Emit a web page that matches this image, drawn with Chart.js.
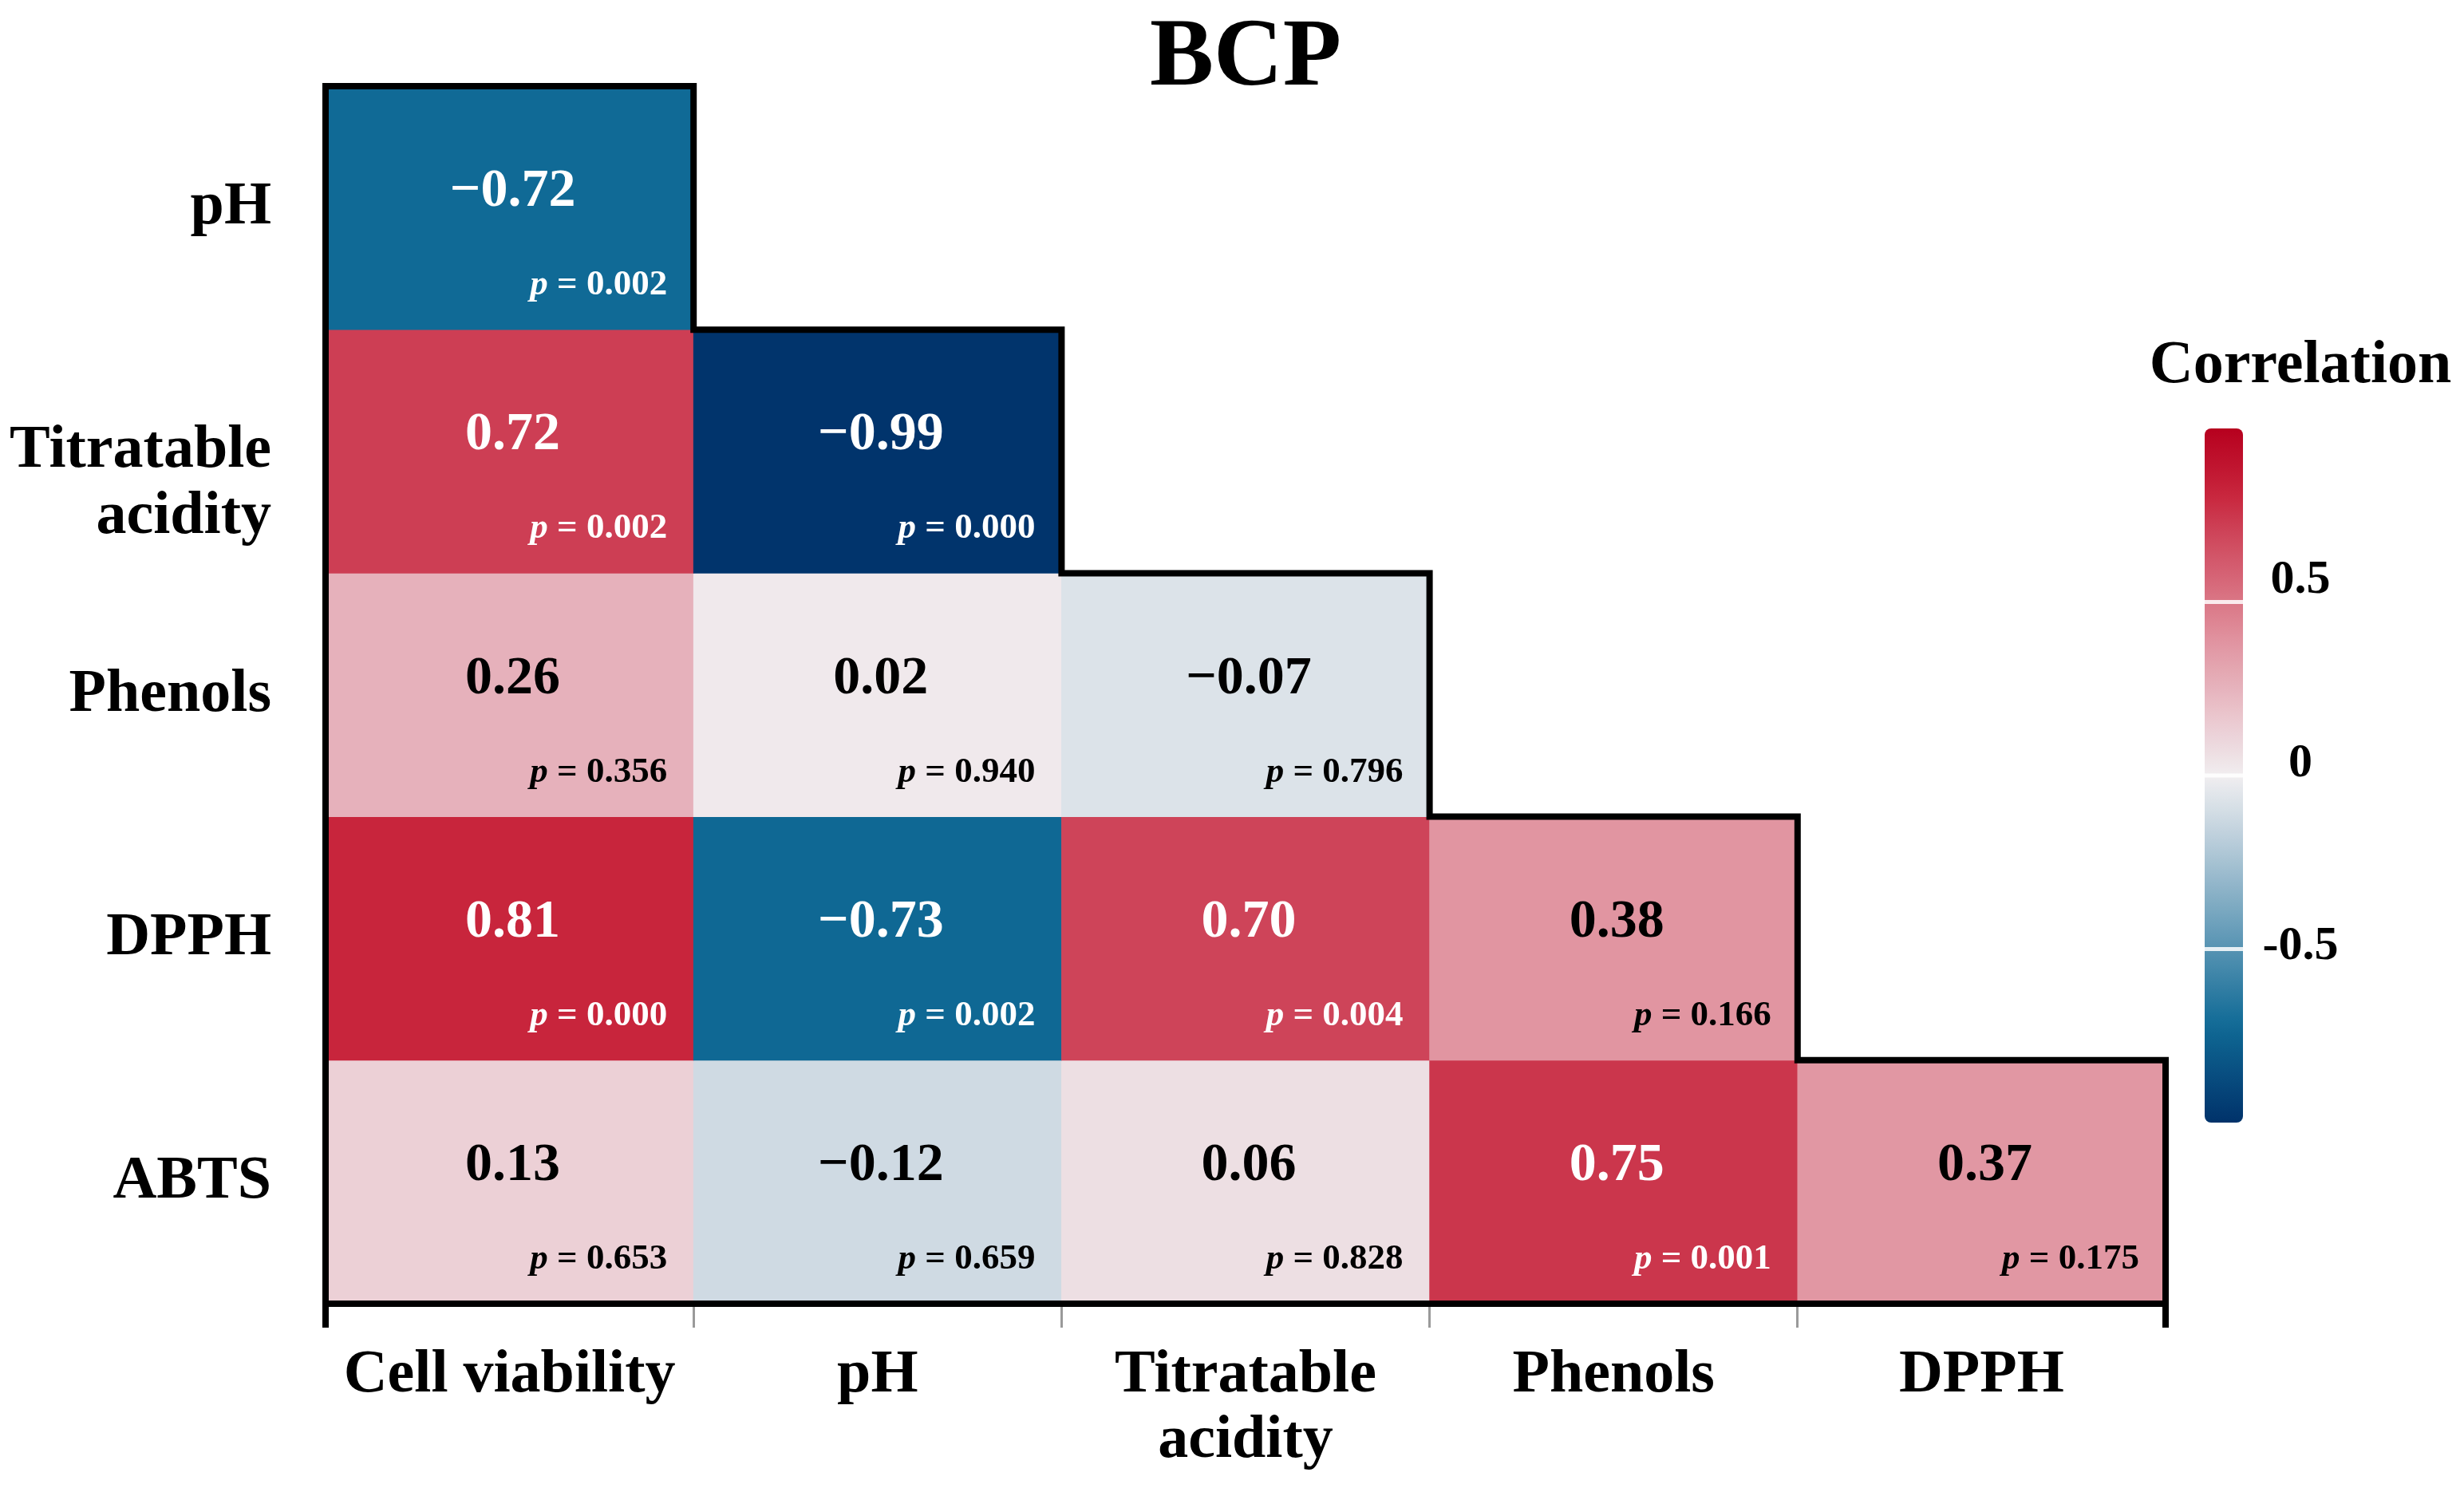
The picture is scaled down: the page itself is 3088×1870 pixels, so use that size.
<!DOCTYPE html>
<html>
<head>
<meta charset="utf-8">
<script src="https://cdn.jsdelivr.net/npm/chart.js@4.4.1/dist/chart.umd.min.js"></script>
<style>
  html, body { margin: 0; padding: 0; background: #fff; }
  #wrap { width: 3088px; height: 1870px; }
</style>
</head>
<body>
<div id="wrap"><canvas id="corrChart"></canvas></div>
<script>
// columns (x) and rows (y) of the lower-triangle matrix
const colLabels = ["Cell viability", "pH", ["Titratable", "acidity"], "Phenols", "DPPH"];
const rowLabels = ["pH", ["", "Titratable", "acidity"], "Phenols", "DPPH", "ABTS"];

// correlation coefficients, one array per row
const rPH       = [-0.72];
const rTitrable = [0.72, -0.99];
const rPhenols  = [0.26, 0.02, -0.07];
const rDPPH     = [0.81, -0.73, 0.70, 0.38];
const rABTS     = [0.13, -0.12, 0.06, 0.75, 0.37];

// p values, one array per row
const pPH       = ["0.002"];
const pTitrable = ["0.002", "0.000"];
const pPhenols  = ["0.356", "0.940", "0.796"];
const pDPPH     = ["0.000", "0.002", "0.004", "0.166"];
const pABTS     = ["0.653", "0.659", "0.828", "0.001", "0.175"];

// colour bar ticks
const cbTicks = [0.5, 0, -0.5];
const cbTickLabels = ["0.5", "0", "-0.5"];

const corrRows = [rPH, rTitrable, rPhenols, rDPPH, rABTS];
const pRows = [pPH, pTitrable, pPhenols, pDPPH, pABTS];

const FONT = "'Liberation Serif', 'Times New Roman', serif";

const colorStops = [
  [-1.00, [0, 50, 106]],
  [-0.72, [16, 106, 150]],
  [-0.12, [207, 218, 227]],
  [-0.07, [220, 227, 233]],
  [0.00, [241, 238, 240]],
  [0.06, [237, 223, 227]],
  [0.13, [236, 208, 214]],
  [0.26, [230, 177, 187]],
  [0.38, [225, 149, 161]],
  [0.70, [206, 68, 89]],
  [0.81, [200, 37, 60]],
  [1.00, [182, 0, 30]]
];

function colorFor(v) {
  for (let k = 1; k < colorStops.length; k++) {
    const [v1, c1] = colorStops[k];
    const [v0, c0] = colorStops[k - 1];
    if (v <= v1) {
      const t = Math.max(0, (v - v0) / (v1 - v0));
      const c = c0.map((a, n) => Math.round(a + (c1[n] - a) * t));
      return `rgb(${c[0]},${c[1]},${c[2]})`;
    }
  }
  const c = colorStops[colorStops.length - 1][1];
  return `rgb(${c[0]},${c[1]},${c[2]})`;
}

function fmt(v) {
  return v < 0 ? "\u2212" + Math.abs(v).toFixed(2) : v.toFixed(2);
}

const datasets = rowLabels.map((_, i) => ({
  data: colLabels.map((_, j) => j <= i ? [i, i + 1] : null),
  backgroundColor: colLabels.map((_, j) => j <= i ? colorFor(corrRows[i][j]) : "rgba(0,0,0,0)"),
  borderWidth: 0,
  barPercentage: 1,
  categoryPercentage: 1,
  grouped: false
}));

// cell texts + staircase outline
const cellPlugin = {
  id: "cellPlugin",
  afterDatasetsDraw(chart) {
    const ctx = chart.ctx;
    const cell = (i, j) => {
      const el = chart.getDatasetMeta(i).data[j];
      return {
        left: el.x - el.width / 2, right: el.x + el.width / 2,
        top: Math.min(el.y, el.base), bottom: Math.max(el.y, el.base), cx: el.x
      };
    };
    ctx.save();
    corrRows.forEach((row, i) => {
      row.forEach((r, j) => {
        const c = cell(i, j);
        const col = Math.abs(r) >= 0.5 ? "#fff" : "#000";
        ctx.fillStyle = col;
        ctx.textAlign = "center";
        ctx.textBaseline = "middle";
        ctx.font = `bold 68px ${FONT}`;
        ctx.fillText(fmt(r), c.cx + 4, (c.top + c.bottom) / 2 - 20);

        const rest = " = " + pRows[i][j];
        const xr = c.right - 33, yb = c.bottom - 44;
        ctx.textBaseline = "alphabetic";
        ctx.textAlign = "right";
        ctx.font = `bold 45px ${FONT}`;
        const w = ctx.measureText(rest).width;
        ctx.fillText(rest, xr, yb);
        ctx.font = `italic bold 45px ${FONT}`;
        ctx.fillText("p", xr - w, yb);
      });
    });

    // outline
    const n = rowLabels.length;
    ctx.beginPath();
    const first = cell(n - 1, 0);
    ctx.moveTo(first.left, first.bottom);
    for (let i = 0; i < n; i++) {
      const d = cell(i, i);
      ctx.lineTo(d.left, d.top);
      ctx.lineTo(d.right, d.top);
    }
    const last = cell(n - 1, n - 1);
    ctx.lineTo(last.right, last.bottom);
    ctx.closePath();
    ctx.lineWidth = 8;
    ctx.lineJoin = "miter";
    ctx.strokeStyle = "#000";
    ctx.stroke();
    ctx.restore();
  }
};

// colour bar legend
const colorBarPlugin = {
  id: "colorBar",
  afterDraw(chart) {
    const ctx = chart.ctx;
    const x0 = 2763, w = 48, top = 537, bottom = 1407;
    const yFor = v => top + (1 - v) / 2 * (bottom - top);
    ctx.save();
    const g = ctx.createLinearGradient(0, top, 0, bottom);
    for (let k = 0; k <= 40; k++) {
      const v = 1 - k / 20;
      g.addColorStop(k / 40, colorFor(v));
    }
    ctx.fillStyle = g;
    ctx.beginPath();
    ctx.roundRect(x0, top, w, bottom - top, 8);
    ctx.fill();

    ctx.strokeStyle = "rgba(255,255,255,0.85)";
    ctx.lineWidth = 5;
    cbTicks.forEach(v => {
      ctx.beginPath();
      ctx.moveTo(x0, yFor(v));
      ctx.lineTo(x0 + w, yFor(v));
      ctx.stroke();
    });

    ctx.fillStyle = "#000";
    ctx.textAlign = "center";
    ctx.textBaseline = "middle";
    ctx.font = `bold 60px ${FONT}`;
    cbTicks.forEach((v, k) => ctx.fillText(cbTickLabels[k], 2883, yFor(v) - 15 - 24 * v));

    ctx.font = `bold 76px ${FONT}`;
    ctx.fillText("Correlation", 2883, 459);
    ctx.restore();
  }
};

const isEdge = c => c.type !== "tick" || c.index === 0;

const chart = new Chart(document.getElementById("corrChart"), {
  type: "bar",
  data: { labels: colLabels, datasets: datasets },
  plugins: [cellPlugin, colorBarPlugin],
  options: {
    responsive: true,
    maintainAspectRatio: false,
    devicePixelRatio: 1,
    animation: false,
    layout: { padding: { top: 42, right: 374, left: 0, bottom: 0 } },
    plugins: {
      legend: { display: false },
      tooltip: { enabled: false },
      title: {
        display: true,
        text: "BCP",
        fullSize: false,
        color: "#000",
        padding: 0,
        font: { family: FONT, size: 120, weight: "bold", lineHeight: 0.55 }
      }
    },
    scales: {
      x: {
        type: "category",
        offset: true,
        afterFit: s => { s.height = 236; },
        border: { display: false },
        grid: {
          display: true,
          offset: true,
          drawOnChartArea: false,
          drawTicks: true,
          tickLength: 30,
          color: c => isEdge(c) ? "#000" : "#9a9a9a",
          lineWidth: c => isEdge(c) ? 8 : 3
        },
        ticks: {
          color: "#000",
          padding: 19,
          maxRotation: 0,
          autoSkip: false,
          font: { family: FONT, size: 76, weight: "bold", lineHeight: 1.08 }
        }
      },
      y: {
        type: "linear",
        min: 0,
        max: rowLabels.length,
        reverse: true,
        afterFit: s => { s.width = 408; },
        afterBuildTicks: s => { s.ticks = rowLabels.map((_, i) => ({ value: i + 0.5 })); },
        border: { display: false },
        grid: { display: false },
        ticks: {
          color: "#000",
          padding: 60,
          autoSkip: false,
          font: { family: FONT, size: 76, weight: "bold", lineHeight: 1.08 },
          callback: (v, i) => rowLabels[i]
        }
      }
    }
  }
});
</script>
</body>
</html>
